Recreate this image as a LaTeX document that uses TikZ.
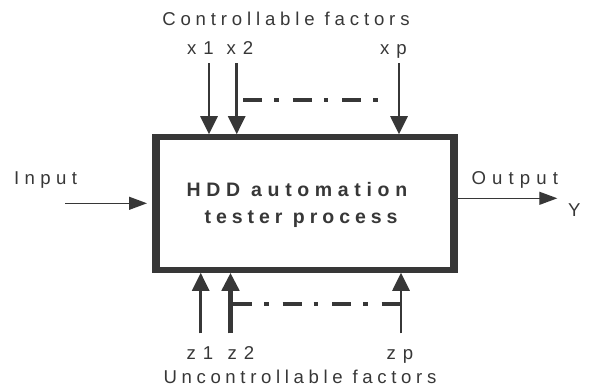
\documentclass[tikz,border=0pt]{standalone}
\usepackage{fontspec}
\setmainfont{Liberation Sans}
\usetikzlibrary{arrows.meta}
\definecolor{ink}{RGB}{55,55,55}
\tikzset{
  lbl/.style={inner sep=0pt, outer sep=0pt, anchor=base west, text=ink,
    font=\fontsize{18.6}{22}\selectfont\addfontfeature{LetterSpace=#1}},
  lbl/.default=26,
  ttl/.style={inner sep=0pt, outer sep=0pt, anchor=base west, text=ink,
    font=\fontsize{19.5}{23}\selectfont\bfseries\addfontfeature{LetterSpace=#1}},
  procbox/.style={draw=ink, line width=5.5pt, minimum width=298pt, minimum height=133pt, inner sep=0pt},
  bigarr/.style={draw=ink, line width=2.7pt, -{Triangle[length=18pt,width=17pt]}},
  smallarr/.style={draw=ink, line width=1.3pt, -{Triangle[length=18pt,width=13pt]}},
  dashdot/.style={draw=ink, line width=3.5pt, dash pattern=on 19pt off 12pt on 4.5pt off 14pt},
}
\begin{document}
\begin{tikzpicture}[x=1pt,y=-1pt]
\useasboundingbox (0,0) rectangle (593,387);
% process box
\node[procbox] (box) at (305,203.5) {};
\draw[ink, line width=8pt] ([xshift=2.75pt]box.north west) -- ([xshift=2.75pt]box.south west);
\draw[ink, line width=8pt] ([xshift=-2.75pt]box.north east) -- ([xshift=-2.75pt]box.south east);
\node[ttl=29] (t1) at (186.6,196.7) {HDD automation};
\node[ttl=25.5] (t2) at (204.6,223.5) {tester process};
% top labels
\node[lbl=26] (ctrl) at (162.3,25.7) {Controllable factors};
\node[lbl=38] (x1) at (187,55) {x1};
\node[lbl=38] (x2) at (226.5,55) {x2};
\node[lbl=38] (xp) at (380,55) {xp};
% top arrows
\coordinate (x1s) at (209,63.3);
\coordinate (x2s) at (236.7,63.3);
\coordinate (xps) at (399,63.3);
\draw[bigarr] (x1s) -- (x1s |- box.north);
\draw[bigarr] (x2s) -- (x2s |- box.north);
\draw[bigarr] (xps) -- (xps |- box.north);
\coordinate (dta) at (243.3,100);
\coordinate (dtb) at (378.3,100);
\draw[dashdot] (dta) -- (dtb);
% bottom arrows
\coordinate (z1s) at (200.7,333.3);
\coordinate (z2s) at (230.5,333.3);
\coordinate (zps) at (401,333.3);
\draw[bigarr] (z1s) -- (z1s |- box.south);
\draw[bigarr, line width=4.5pt] (z2s) -- (z2s |- box.south);
\draw[bigarr] (zps) -- (zps |- box.south);
\coordinate (dba) at (233,304);
\draw[dashdot] (dba) -- (zps |- dba);
% bottom labels
\node[lbl=38] (z1) at (186.5,359) {z1};
\node[lbl=38] (z2) at (227.5,359) {z2};
\node[lbl=38] (zp) at (386.5,359) {zp};
\node[lbl=25] (unctrl) at (163.5,383.5) {Uncontrollable factors};
% input / output
\node[lbl=29] (in) at (14,185) {Input};
\coordinate (ins) at (65,203.3);
\draw[smallarr] (ins) -- ([xshift=-6.25pt]box.west |- ins);
\node[lbl=33] (out) at (471.5,185) {Output};
\coordinate (oute) at (557.3,198.3);
\draw[smallarr] (box.east |- oute) -- (oute);
\node[lbl=0] (y) at (568,216) {Y};
\end{tikzpicture}
\end{document}
